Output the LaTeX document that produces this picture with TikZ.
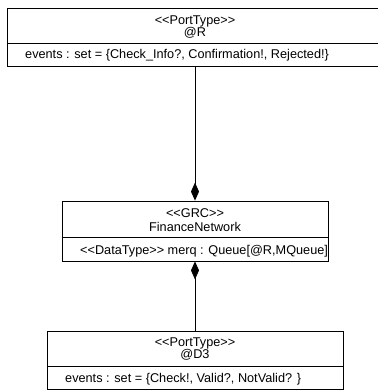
\documentclass[tikz,border=0pt]{standalone}
\usepackage{fontspec}
\setmainfont{Liberation Sans}
\usetikzlibrary{arrows.meta}
\begin{document}
\begin{tikzpicture}[x=1pt,y=-1pt,
  umlbox/.style={draw=black, line width=0.8pt, fill=white, inner sep=0pt},
  lbl/.style={inner sep=0pt, font=\fontsize{12.7}{14}\selectfont, anchor=base},
  lbll/.style={lbl, anchor=base west},
  comp/.style={line width=0.8pt, -{Diamond[length=18pt,width=8pt]}}]
\useasboundingbox (0,0) rectangle (378,392);
\clip (0,0) rectangle (378,392);
% boxes
\node[umlbox, minimum width=378pt, minimum height=58pt] (R) at (196,37) {};
\node[umlbox, minimum width=266pt, minimum height=60pt] (G) at (195,231) {};
\node[umlbox, minimum width=296pt, minimum height=58pt] (D) at (195,360) {};
% separators
\draw[line width=0.8pt] ([yshift=-6.5pt]R.west) -- ([yshift=-6.5pt]R.east);
\draw[line width=0.8pt] ([yshift=-6pt]G.west) -- ([yshift=-6pt]G.east);
\draw[line width=0.8pt] ([yshift=-6pt]D.west) -- ([yshift=-6pt]D.east);
% texts
\node[lbl] (r1) at (195,24) {<{}<PortType>{}>};
\node[lbl] (r2) at (195,36.5) {@R};
\node[lbll] (r3) at (25,58.5) {events : set = \{Check\_Info?, Confirmation!, Rejected!\}};
\node[lbl] (g1) at (195,217.5) {<{}<GRC>{}>};
\node[lbl] (g2) at (195,231) {FinanceNetwork};
\node[lbll] (g3) at (80,254) {<{}<DataType>{}> merq : Queue[@R,MQueue]};
\node[lbl] (d1) at (195,346) {<{}<PortType>{}>};
\node[lbl] (d2) at (195,358) {@D3};
\node[lbll] (d3) at (65,382) {events : set = \{Check!, Valid?, NotValid? \}};
% connectors
\draw[comp] (R.south -| G.north) -- (G.north);
\draw[comp] (D.north) -- (G.south);
\end{tikzpicture}
\end{document}
